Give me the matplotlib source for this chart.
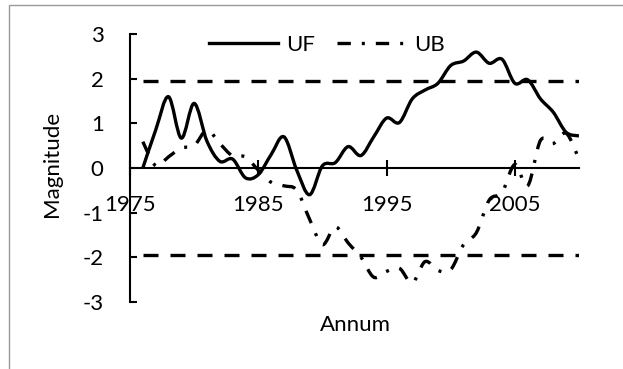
import matplotlib
matplotlib.use("Agg")
import matplotlib.pyplot as plt
from matplotlib.path import Path
from matplotlib.patches import PathPatch, Rectangle
from matplotlib.lines import Line2D

plt.rcParams['font.family'] = ['Lato', 'DejaVu Sans']
plt.rcParams['axes.unicode_minus'] = False

years = list(range(1976, 2011))
uf = [0.00, 0.85, 1.60, 0.67, 1.45, 0.60, 0.15, 0.20, -0.22, -0.15,
      0.30, 0.70, -0.05, -0.60, 0.05, 0.12, 0.48, 0.28, 0.70, 1.12,
      1.02, 1.55, 1.75, 1.90, 2.30, 2.40, 2.60, 2.35, 2.44, 1.90,
      1.98, 1.55, 1.25, 0.80, 0.72]
ub = [0.59, 0.05, 0.25, 0.45, 0.50, 0.85, 0.55, 0.27, 0.25, -0.05,
      -0.32, -0.40, -0.50, -1.15, -1.72, -1.32, -1.68, -2.00, -2.45, -2.32,
      -2.25, -2.58, -2.10, -2.30, -2.28, -1.72, -1.45, -0.72, -0.55, 0.08,
      -0.40, 0.62, 0.55, 0.78, 0.20]
crit = 1.96
xticks = [1975, 1985, 1995, 2005]
yticks = [-3, -2, -1, 0, 1, 2, 3]

LW = 2.4
DASHDOT = (0, (4.0, 3.3, 0.9, 3.3))
DASHED = (0, (4.5, 3.6))


def smooth_path(x, y):
    n = len(x)
    verts = [(x[0], y[0])]
    codes = [Path.MOVETO]
    for i in range(n - 1):
        a = i - 1 if i > 0 else i
        d = i + 2 if i + 2 < n else i + 1
        c1 = (x[i] + (x[i + 1] - x[a]) / 6.0, y[i] + (y[i + 1] - y[a]) / 6.0)
        c2 = (x[i + 1] - (x[d] - x[i]) / 6.0, y[i + 1] - (y[d] - y[i]) / 6.0)
        verts += [c1, c2, (x[i + 1], y[i + 1])]
        codes += [Path.CURVE4] * 3
    return Path(verts, codes)


fig = plt.figure(figsize=(6.23, 3.69), dpi=100)
ax = fig.add_axes([130 / 623, (369 - 301.7) / 369, 449 / 623, 267.4 / 369])

ax.set_xlim(1975, 2010)
ax.set_ylim(-3, 3)

# critical value lines
ax.plot(years, [crit] * len(years), color='black', lw=LW, linestyle=DASHED,
        dash_capstyle='butt')
ax.plot(years, [-crit] * len(years), color='black', lw=LW, linestyle=DASHED,
        dash_capstyle='butt')

ax.add_patch(PathPatch(smooth_path(years, ub), fill=False, edgecolor='black',
                       lw=LW, linestyle=DASHDOT, capstyle='butt',
                       joinstyle='round'))
ax.add_patch(PathPatch(smooth_path(years, uf), fill=False, edgecolor='black',
                       lw=LW, capstyle='butt', joinstyle='round'))

for s in ['top', 'right']:
    ax.spines[s].set_visible(False)
ax.spines['bottom'].set_position(('data', 0))
ax.spines['bottom'].set_linewidth(1.5)
ax.spines['left'].set_linewidth(1.5)

ax.set_xticks(xticks)
ax.set_xticklabels([str(t) for t in xticks])
ax.set_yticks(yticks)
ax.set_yticklabels([str(t) for t in yticks])
ax.tick_params(axis='x', direction='inout', length=11, width=1.5, pad=14,
               labelsize=16)
ax.tick_params(axis='y', direction='in', length=5, width=1.5, pad=19,
               labelsize=16)

ax.set_ylabel('Magnitude', fontsize=16)
ax.yaxis.set_label_coords(-0.174, 0.515)
ax.yaxis.label.set_va('center')
ax.set_xlabel('Annum', fontsize=16)
ax.xaxis.set_label_coords(0.501, -0.087)
ax.xaxis.label.set_va('center')

handles = [Line2D([], [], color='black', lw=LW),
           Line2D([], [], color='black', lw=LW, linestyle=DASHDOT,
                  dash_capstyle='butt')]
ax.legend(handles, ['UF', 'UB'], loc='center', ncol=2, frameon=False,
          bbox_to_anchor=(327 / 623, 1 - 45 / 369),
          bbox_transform=fig.transFigure, fontsize=16, handlelength=3.1,
          handletextpad=0.35, columnspacing=1.0, borderpad=0,
          borderaxespad=0)

fig.add_artist(Rectangle((9 / 623, -0.2), 1.2, 1.2 - 5 / 369,
                         transform=fig.transFigure, fill=False,
                         edgecolor='#999999', lw=1.0))

fig.savefig('out.png', dpi=100)
